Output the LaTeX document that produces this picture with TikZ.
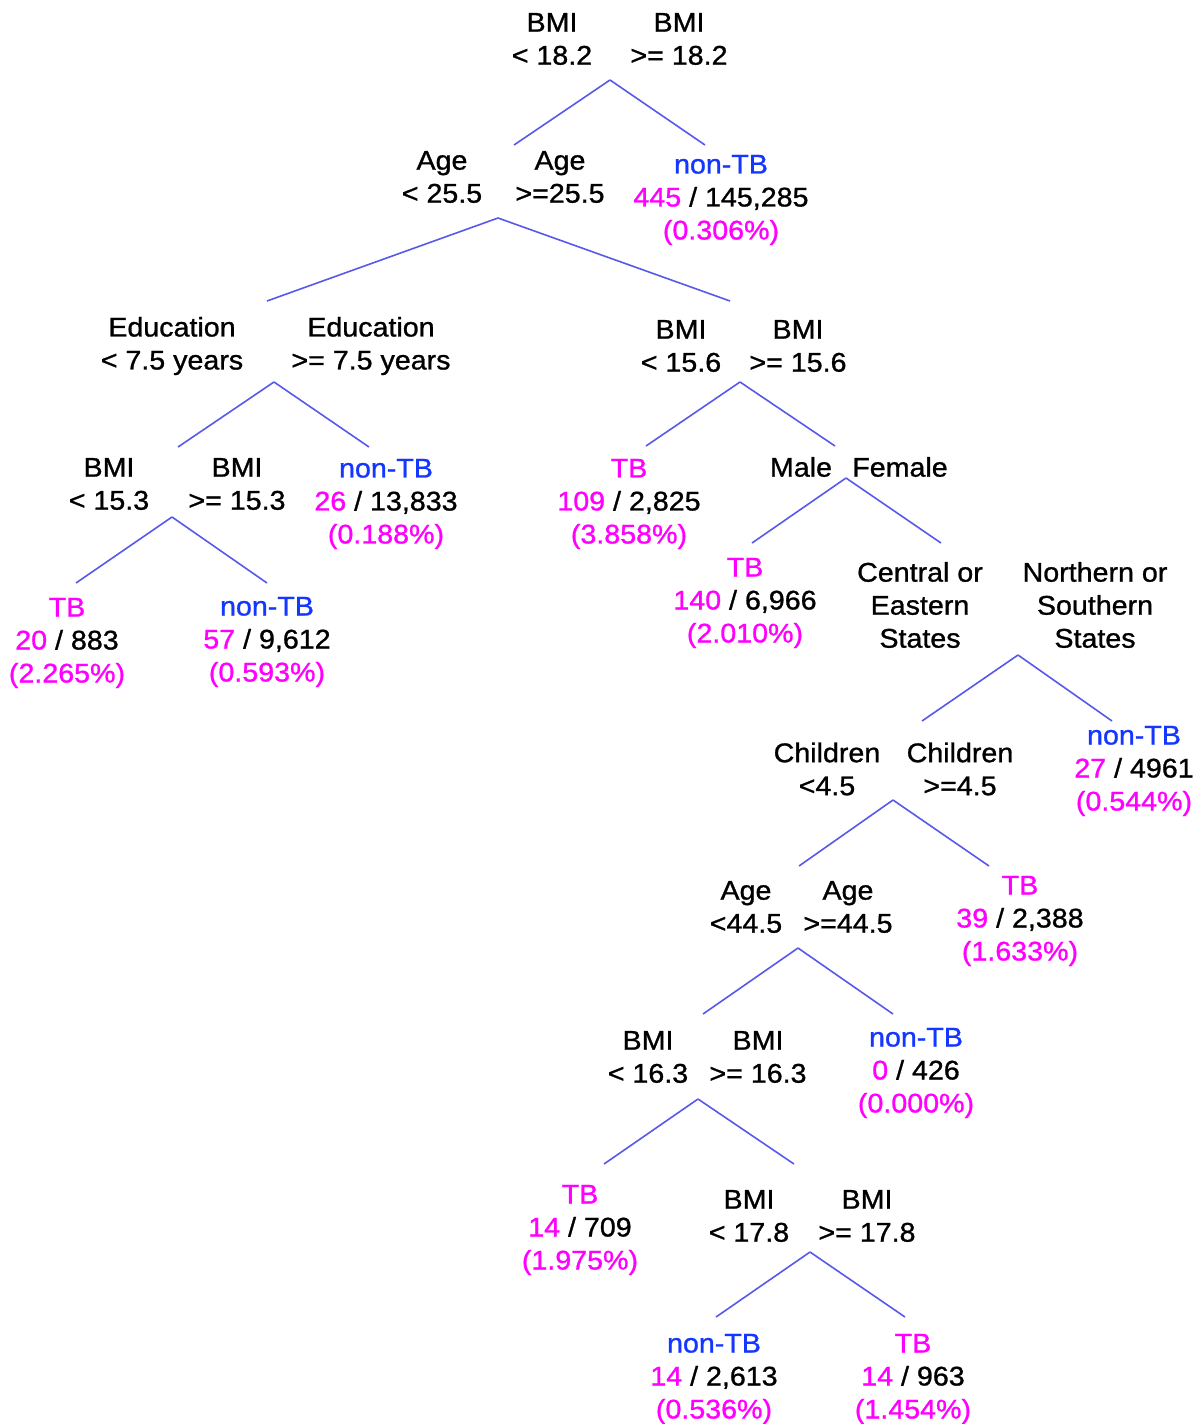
\documentclass[tikz,border=0pt]{standalone}
\usepackage{fontspec}
\setmainfont{Liberation Sans}[FakeStretch=1.06,FakeBold=1.0]
\definecolor{edgeblue}{RGB}{88,88,235}
\definecolor{classblue}{RGB}{20,55,255}
\definecolor{casemag}{RGB}{255,0,255}
\newcommand{\ntb}{\textcolor{classblue}{non-TB}}
\newcommand{\tbl}{\textcolor{casemag}{TB}}
\newcommand{\hitcount}[1]{\textcolor{casemag}{#1}}
\begin{document}
\begin{tikzpicture}[x=1pt,y=-1pt,
  lbl/.style={align=center,inner sep=0pt,font=\fontsize{27}{33}\selectfont},
  edge/.style={draw=edgeblue,line width=1.6pt}]
\useasboundingbox[fill=white] (0,0) rectangle (1201,1424);

% root split
\node[lbl] (r-l) at (552,39) {BMI\\< 18.2};
\node[lbl] (r-r) at (679,39) {BMI\\>= 18.2};
\coordinate (r-apex) at (610,80);
% age split
\node[lbl] (a-l) at (442,177) {Age\\< 25.5};
\node[lbl] (a-r) at (560,177) {Age\\>=25.5};
\coordinate (a-top) at (514,145);
\coordinate (a-apex) at (498,218);
\node[lbl] (leaf1) at (721,200) {\ntb\\\hitcount{445} / 145,285\\\hitcount{(0.306\%)}};
\coordinate (leaf1-top) at (705,145);

% education split
\node[lbl] (e-l) at (172,346) {Education\\< 7.5 years};
\node[lbl] (e-r) at (371,346) {Education\\>= 7.5 years};
\coordinate (e-top) at (267,301);
\coordinate (e-apex) at (274,382);
% bmi 15.6 split
\node[lbl] (b2-l) at (681,346) {BMI\\< 15.6};
\node[lbl] (b2-r) at (798,346) {BMI\\>= 15.6};
\coordinate (b2-top) at (730,301);
\coordinate (b2-apex) at (740,382);

% bmi 15.3 split
\node[lbl] (b3-l) at (109,484) {BMI\\< 15.3};
\node[lbl] (b3-r) at (237,484) {BMI\\>= 15.3};
\coordinate (b3-top) at (178,447);
\coordinate (b3-apex) at (172,517);
\node[lbl] (leaf2) at (386,504) {\ntb\\\hitcount{26} / 13,833\\\hitcount{(0.188\%)}};
\coordinate (leaf2-top) at (369,447);
\node[lbl] (leaf3) at (629,504) {\tbl\\\hitcount{109} / 2,825\\\hitcount{(3.858\%)}};
\coordinate (leaf3-top) at (646,446);
% sex split
\node[lbl] (s-l) at (801,467) {Male};
\node[lbl] (s-r) at (900,467) {Female};
\coordinate (s-top) at (835,446);
\coordinate (s-apex) at (846,478);

% leaves under bmi 15.3
\node[lbl] (leaf4) at (67,643) {\tbl\\\hitcount{20} / 883\\\hitcount{(2.265\%)}};
\coordinate (leaf4-top) at (76,583);
\node[lbl] (leaf5) at (267,642) {\ntb\\\hitcount{57} / 9,612\\\hitcount{(0.593\%)}};
\coordinate (leaf5-top) at (267,583);
\node[lbl] (leaf6) at (745,603) {\tbl\\\hitcount{140} / 6,966\\\hitcount{(2.010\%)}};
\coordinate (leaf6-top) at (752,543);
% region split
\node[lbl] (g-l) at (920,605) {Central or\\Eastern\\States};
\node[lbl] (g-r) at (1095,605) {Northern or\\Southern\\States};
\coordinate (g-top) at (941,543);
\coordinate (g-apex) at (1018,655);

% children split
\node[lbl] (c-l) at (827,769) {Children\\<4.5};
\node[lbl] (c-r) at (960,769) {Children\\>=4.5};
\coordinate (c-top) at (922,721);
\coordinate (c-apex) at (893,800);
\node[lbl] (leaf7) at (1134,771) {\ntb\\\hitcount{27} / 4961\\\hitcount{(0.544\%)}};
\coordinate (leaf7-top) at (1112,721);

% age 44.5 split
\node[lbl] (a2-l) at (746,907) {Age\\<44.5};
\node[lbl] (a2-r) at (848,907) {Age\\>=44.5};
\coordinate (a2-top) at (799,866);
\coordinate (a2-apex) at (798,948);
\node[lbl] (leaf8) at (1020,921) {\tbl\\\hitcount{39} / 2,388\\\hitcount{(1.633\%)}};
\coordinate (leaf8-top) at (989,866);

% bmi 16.3 split
\node[lbl] (b4-l) at (648,1057) {BMI\\< 16.3};
\node[lbl] (b4-r) at (758,1057) {BMI\\>= 16.3};
\coordinate (b4-top) at (703,1014);
\coordinate (b4-apex) at (698,1099);
\node[lbl] (leaf9) at (916,1073) {\ntb\\\hitcount{0} / 426\\\hitcount{(0.000\%)}};
\coordinate (leaf9-top) at (893,1014);

% bmi 17.8 split
\node[lbl] (b5-l) at (749,1216) {BMI\\< 17.8};
\node[lbl] (b5-r) at (867,1216) {BMI\\>= 17.8};
\coordinate (b5-top) at (794,1164);
\coordinate (b5-apex) at (810,1252);
\node[lbl] (leaf10) at (580,1230) {\tbl\\\hitcount{14} / 709\\\hitcount{(1.975\%)}};
\coordinate (leaf10-top) at (604,1164);

% bottom leaves
\node[lbl] (leaf11) at (714,1379) {\ntb\\\hitcount{14} / 2,613\\\hitcount{(0.536\%)}};
\coordinate (leaf11-top) at (716,1317);
\node[lbl] (leaf12) at (913,1379) {\tbl\\\hitcount{14} / 963\\\hitcount{(1.454\%)}};
\coordinate (leaf12-top) at (905,1317);

% branches
\draw[edge] (r-apex) -- (a-top);
\draw[edge] (r-apex) -- (leaf1-top);
\draw[edge] (a-apex) -- (e-top);
\draw[edge] (a-apex) -- (b2-top);
\draw[edge] (e-apex) -- (b3-top);
\draw[edge] (e-apex) -- (leaf2-top);
\draw[edge] (b2-apex) -- (leaf3-top);
\draw[edge] (b2-apex) -- (s-top);
\draw[edge] (b3-apex) -- (leaf4-top);
\draw[edge] (b3-apex) -- (leaf5-top);
\draw[edge] (s-apex) -- (leaf6-top);
\draw[edge] (s-apex) -- (g-top);
\draw[edge] (g-apex) -- (c-top);
\draw[edge] (g-apex) -- (leaf7-top);
\draw[edge] (c-apex) -- (a2-top);
\draw[edge] (c-apex) -- (leaf8-top);
\draw[edge] (a2-apex) -- (b4-top);
\draw[edge] (a2-apex) -- (leaf9-top);
\draw[edge] (b4-apex) -- (leaf10-top);
\draw[edge] (b4-apex) -- (b5-top);
\draw[edge] (b5-apex) -- (leaf11-top);
\draw[edge] (b5-apex) -- (leaf12-top);
\end{tikzpicture}
\end{document}
